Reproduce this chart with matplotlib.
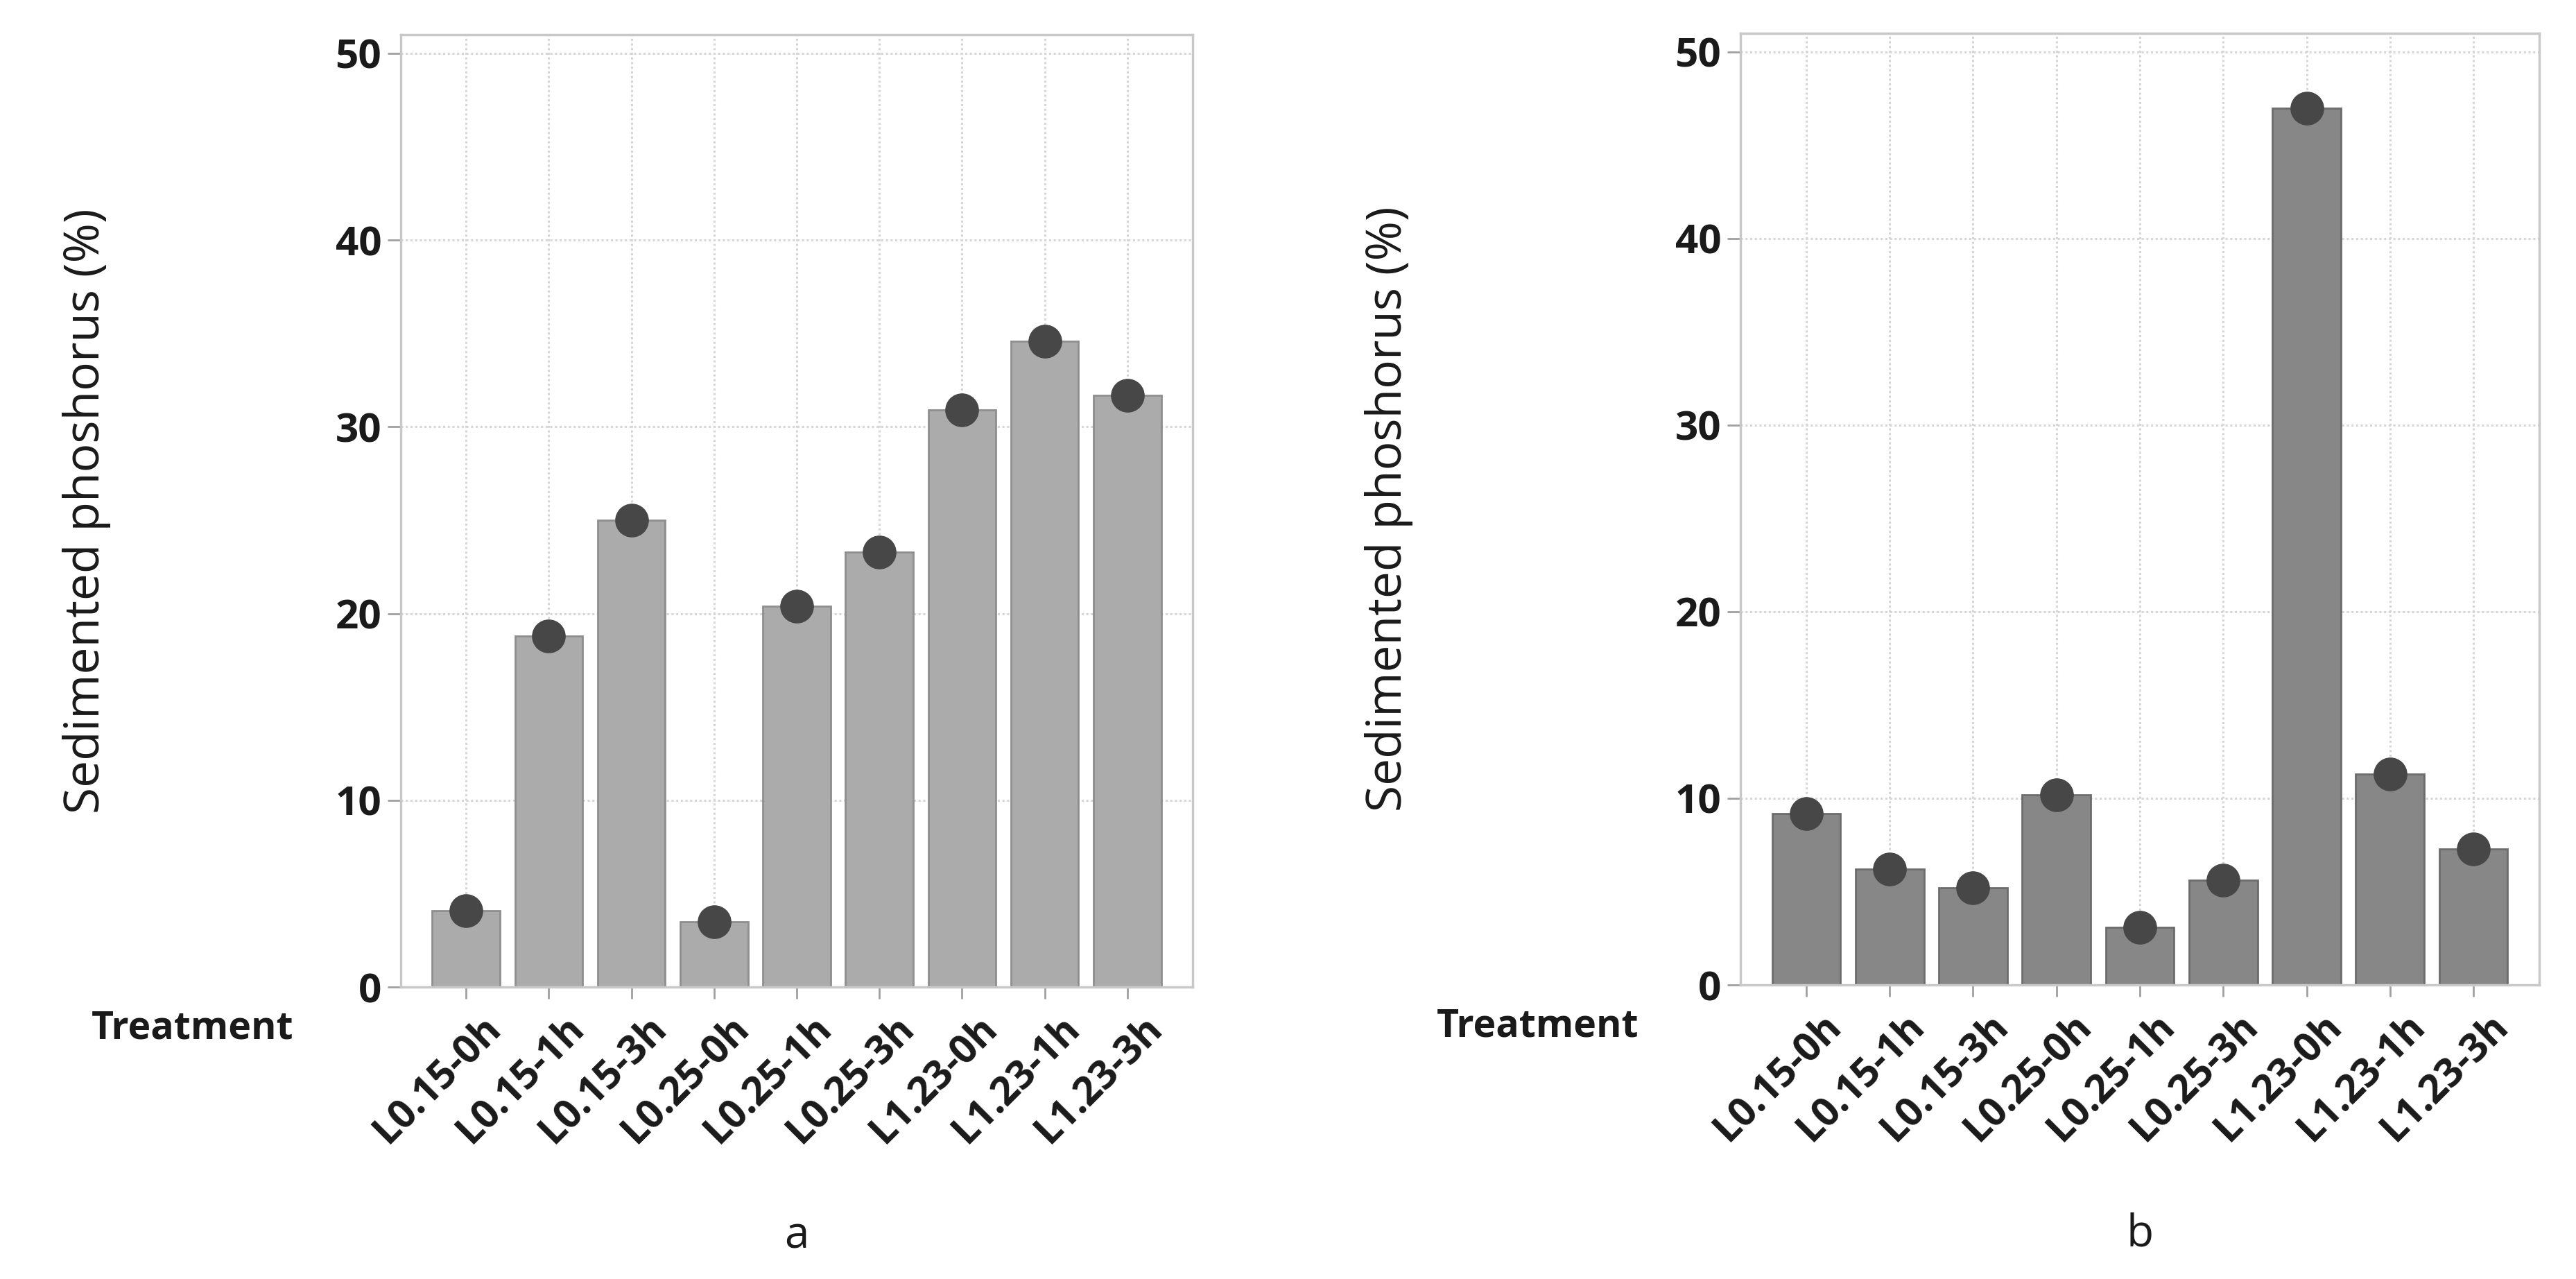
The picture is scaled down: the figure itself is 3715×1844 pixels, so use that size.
#!/usr/bin/env python3
"""Sedimented phosphorus per treatment, two panels (a, b)."""

import matplotlib
matplotlib.use("Agg")
import matplotlib.pyplot as plt
from matplotlib.transforms import ScaledTranslation

# Data (%)
treatments = ["L0.15-0h", "L0.15-1h", "L0.15-3h",
              "L0.25-0h", "L0.25-1h", "L0.25-3h",
              "L1.23-0h", "L1.23-1h", "L1.23-3h"]
sed_p_a = [4.1, 18.8, 25.0, 3.5, 20.4, 23.3, 30.9, 34.6, 31.7]
sed_p_b = [9.2, 6.2, 5.2, 10.2, 3.1, 5.6, 47.0, 11.3, 7.3]
y_ticks = [0, 10, 20, 30, 40, 50]
panel_names = ["a", "b"]

plt.rcParams["font.family"] = ["Open Sans", "DejaVu Sans"]

W, H = 3715, 1844
fig = plt.figure(figsize=(W / 100, H / 100), dpi=100)

# axes boxes in pixels: left, top, right, bottom
boxes = [(578, 50, 1720, 1423), (2510, 48, 3662, 1420)]
bar_colors = ["#ababab", "#878787"]
edge_colors = ["#8e8e8e", "#6c6c6c"]
ylabel_x = [-0.366, -0.41]
treat_x = [-0.135, -0.127]
series = [sed_p_a, sed_p_b]

for k, (l, t, r, b) in enumerate(boxes):
    ax = fig.add_axes([l / W, (H - b) / H, (r - l) / W, (b - t) / H])
    vals = series[k]
    x = list(range(len(treatments)))

    ax.bar(x, vals, width=0.82, color=bar_colors[k], edgecolor=edge_colors[k],
           linewidth=2, zorder=2)
    ax.plot(x, vals, "o", color="#474747", markersize=34, zorder=3)

    ax.set_xlim(-0.79, 8.79)
    ax.set_ylim(0, 51)
    ax.set_yticks(y_ticks)
    ax.set_yticklabels([str(v) for v in y_ticks], fontsize=42,
                       fontweight="bold", color="#1a1a1a")
    ax.tick_params(axis="y", length=14, width=2, color="#a0a0a0", pad=6)
    ax.tick_params(axis="x", length=12, width=2, color="#a0a0a0", pad=24)
    ax.set_xticks(x)
    ax.set_xticklabels(treatments, rotation=45, ha="right", va="center",
                       rotation_mode="anchor", fontsize=41, fontweight="bold",
                       color="#1a1a1a")
    # nudge the rotated labels to the right, as in the original
    shift = ScaledTranslation(0.42, 0, fig.dpi_scale_trans)
    for lab in ax.get_xticklabels():
        lab.set_transform(lab.get_transform() + shift)

    ax.grid(True, linestyle=(0, (1, 1.2)), color="#d6d6d6", linewidth=2.2)
    ax.set_axisbelow(True)
    for sp in ax.spines.values():
        sp.set_color("#c8c8c8")
        sp.set_linewidth(2.5)

    ax.set_ylabel("Sedimented phoshorus (%)", fontsize=50, color="#1a1a1a")
    ax.yaxis.set_label_coords(ylabel_x[k], 0.5)

    ax.text(treat_x[k], -0.044, "Treatment", transform=ax.transAxes,
            ha="right", va="center", fontsize=40, fontweight="bold",
            color="#1a1a1a")
    ax.text(0.5, -0.262, panel_names[k], transform=ax.transAxes,
            ha="center", va="center", fontsize=46, color="#1a1a1a")

fig.savefig("out.png", dpi=100)
print("Saved: out.png")
